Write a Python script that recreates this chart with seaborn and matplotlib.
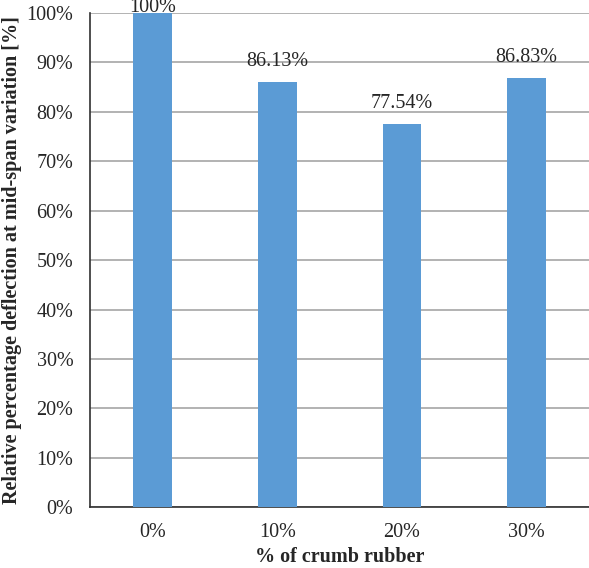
import matplotlib
matplotlib.use("Agg")
import matplotlib.pyplot as plt
import seaborn as sns
import pandas as pd

# Data
rubber = ['0%', '10%', '20%', '30%']
deflection = [100, 86.13, 77.54, 86.83]
labels = ['100%', '86.13%', '77.54%', '86.83%']

df = pd.DataFrame({'rubber': rubber, 'deflection': deflection})

sns.set_style('white')
plt.rcParams['font.family'] = ['Liberation Serif', 'DejaVu Serif']

fig = plt.figure(figsize=(5.89, 5.68), dpi=100)
ax = fig.add_axes([0.153, 0.107, 0.847, 0.870])

sns.barplot(data=df, x='rubber', y='deflection', color='#5B9BD5',
            saturation=1, width=0.31, linewidth=0, ax=ax, zorder=3)

fs = 14.5
ax.set_ylim(0, 100)
ax.set_yticks(range(0, 101, 10))
ax.set_yticklabels([f'{v}%' for v in range(0, 101, 10)], fontsize=fs)
ax.tick_params(axis='x', labelsize=fs, pad=11, length=0)
ax.tick_params(axis='y', length=0, pad=12)
ax.yaxis.grid(True, color='#ADADAD', linewidth=1.3, zorder=0)
ax.set_axisbelow(True)

for s in ['top', 'right']:
    ax.spines[s].set_visible(False)
for s in ['left', 'bottom']:
    ax.spines[s].set_color('#303030')
    ax.spines[s].set_linewidth(1.2)

# value labels above the bars (the 100% one sits right on top of the bar)
for i, (v, t) in enumerate(zip(deflection, labels)):
    off = 1 if v >= 100 else 16
    ax.annotate(t, (i, v), xytext=(0, off), textcoords='offset pixels',
                ha='center', va='baseline', fontsize=fs, annotation_clip=False)

ax.set_xlabel('% of crumb rubber', fontsize=fs, fontweight='bold', labelpad=4)
ax.set_ylabel('Relative percentage deflection at mid-span variation [%]',
              fontsize=fs, fontweight='bold', labelpad=3)

fig.savefig('out.png', dpi=100)
